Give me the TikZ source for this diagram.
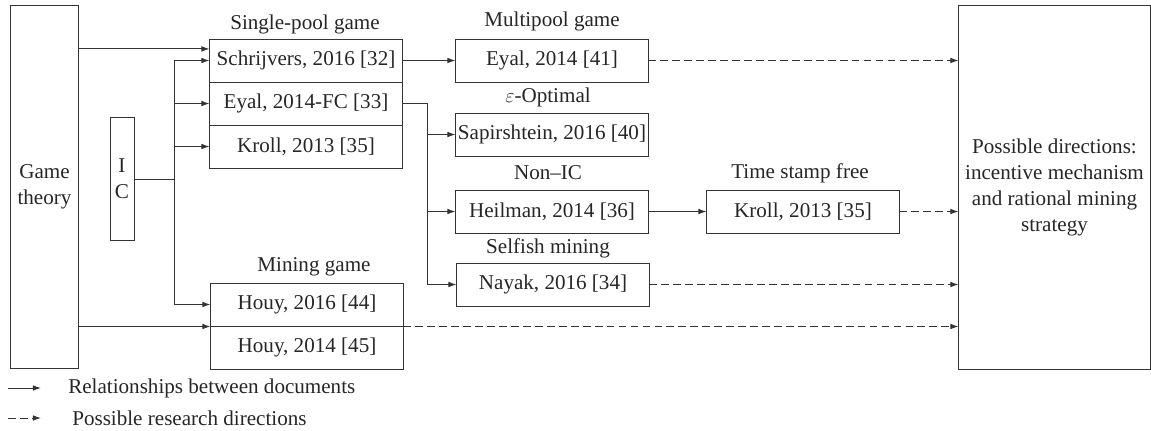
\documentclass[tikz,border=0pt]{standalone}
\usepackage{fontspec}
\setmainfont{Liberation Serif}
\usepackage{tikz}
\usetikzlibrary{arrows.meta,positioning,calc}

\begin{document}
\begin{tikzpicture}[
  x=0.025cm, y=-0.025cm,
  every node/.style={font=\fontsize{15}{18.4}\selectfont, text=black!85},
  line/.style={draw=black!80, line width=0.7pt},
  arr/.style={line, -{Latex[length=2mm,width=1.4mm]}},
  darr/.style={arr, dash pattern=on 5.5pt off 3pt},
  box/.style={draw=black!80, line width=0.7pt, minimum width=4.8cm, minimum height=1.075cm, inner sep=0pt},
  tall/.style={draw=black!80, line width=0.7pt, align=center, inner sep=0pt}
]
  \useasboundingbox (0,0) rectangle (1151,430);
  % left side
  \node[tall, minimum width=1.675cm, minimum height=9.05cm] (gt) at (44.5,187) {Game\\theory};
  \node[tall, minimum width=0.6cm, minimum height=3.05cm] (ic) at (122,179) {I\\C};
  % single-pool game
  \node[box] (s1) at (306,60.5) {Schrijvers, 2016 [32]};
  \node[box] (s2) at (306,103.5) {Eyal, 2014-FC [33]};
  \node[box] (s3) at (306,146.5) {Kroll, 2013 [35]};
  \node (lsp) at (305,24) {Single-pool game};
  % mining game
  \node[box] (m1) at (307,304.5) {Houy, 2016 [44]};
  \node[box] (m2) at (307,347.5) {Houy, 2014 [45]};
  \node (lmg) at (314,267) {Mining game};
  % second column
  \node[box] (e41) at (552,60.5) {Eyal, 2014 [41]};
  \node (lmp) at (552,21) {Multipool game};
  \node[box] (sap) at (552,134.5) {Sapirshtein, 2016 [40]};
  \node (leo) at (548,97) {$\varepsilon$-Optimal};
  \node[box] (heil) at (552,211.5) {Heilman, 2014 [36]};
  \node (lni) at (548,173) {Non--IC};
  \node[box] (nay) at (553,284.5) {Nayak, 2016 [34]};
  \node (lsm) at (548,248) {Selfish mining};
  % third column
  \node[box] (k35) at (803,211.5) {Kroll, 2013 [35]};
  \node (lts) at (800,173) {Time stamp free};
  \node[tall, minimum width=4.775cm, minimum height=9.075cm] (pd) at (1054.5,187.5)
    {Possible directions:\\incentive mechanism\\and rational mining\\strategy};

  % game theory and IC links
  \draw[arr] ([yshift=2.9mm]s1.west -| gt.east) -- ([yshift=2.9mm]s1.west);
  \draw[arr] (gt.east |- m1.south west) -- (m1.south west);
  \coordinate (bus) at (174,179);
  \draw[line] (ic.east) -- (bus);
  \draw[line] (bus |- s1.west) -- (bus |- m1.west);
  \foreach \t in {s1,s2,s3,m1}
    \draw[arr] (bus |- \t.west) -- (\t.west);
  % branches from the single-pool game
  \draw[arr] (s1) -- (e41);
  \draw[line] (s2.east) -- ++(25,0) coordinate (br) -- (br |- nay.west);
  \foreach \t in {sap,heil,nay}
    \draw[arr] (br |- \t.west) -- (\t.west);
  \draw[arr] (heil) -- (k35);
  % possible research directions
  \foreach \t in {e41,k35,nay}
    \draw[darr] (\t.east) -- (pd.west |- \t.east);
  \draw[darr] (m1.south east) -- (pd.west |- m1.south east);

  % legend
  \coordinate (la1) at (8,388);
  \coordinate (la2) at (41,388);
  \coordinate (lb1) at (8,418);
  \coordinate (lb2) at (41,418);
  \draw[arr] (la1) -- (la2);
  \draw[darr] (lb1) -- (lb2);
  \node[anchor=west, inner sep=0pt] (leg1) at (68,388) {Relationships between documents};
  \node[anchor=west, inner sep=0pt] (leg2) at (72,418) {Possible research directions};
\end{tikzpicture}
\end{document}
